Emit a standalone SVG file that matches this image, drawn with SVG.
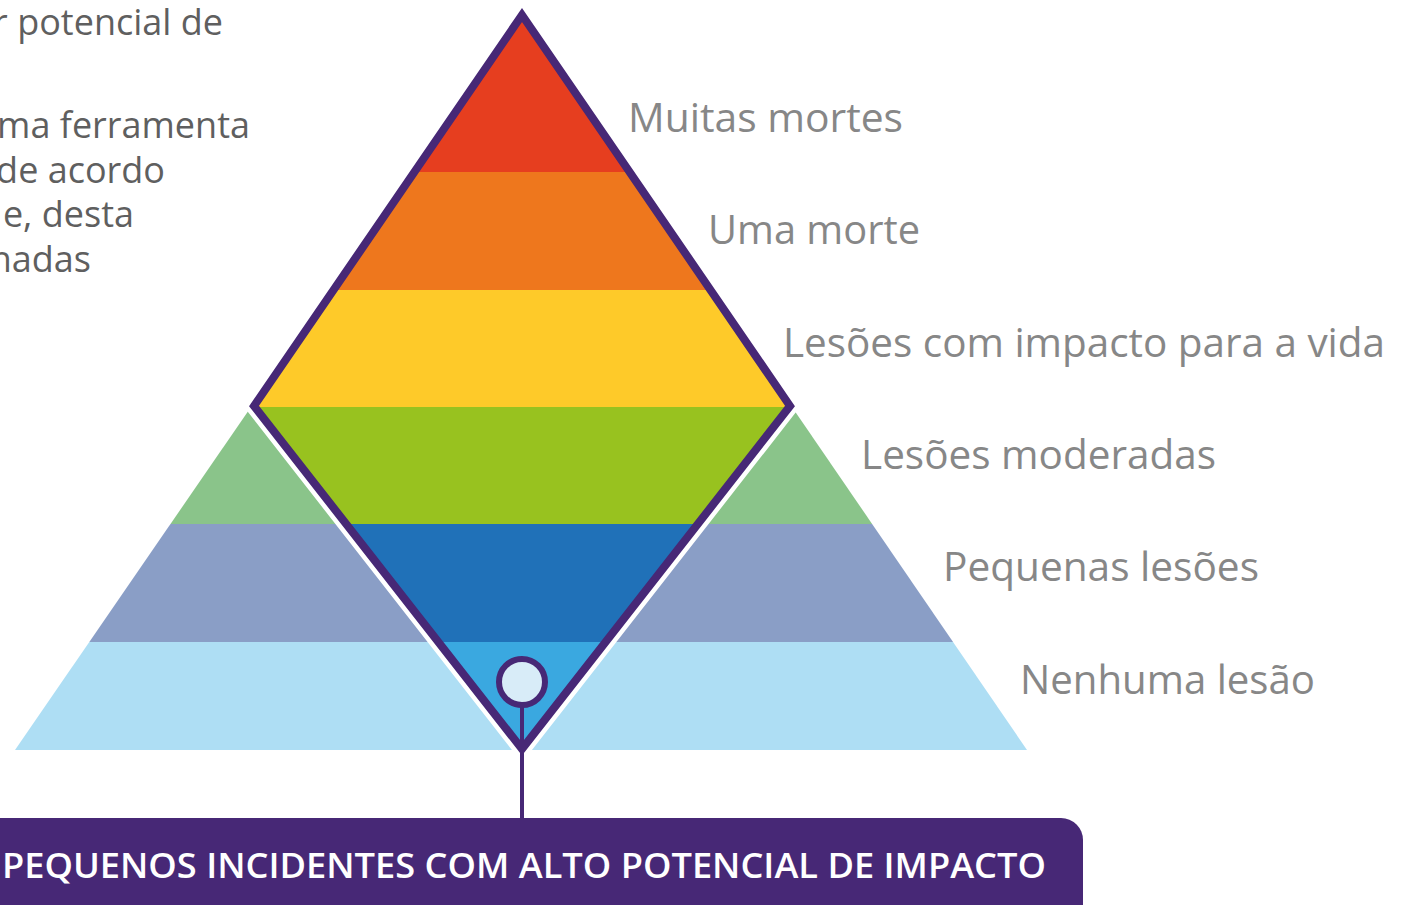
<svg xmlns="http://www.w3.org/2000/svg" width="1408" height="905" viewBox="0 0 1408 905">
<style>
.lbl{font-family:"Open Sans","Liberation Sans",sans-serif;font-size:40px;fill:#878787}
.side{font-family:"Open Sans","Liberation Sans",sans-serif;font-size:36px;fill:#5f5f5f;text-anchor:end}
.banner{font-family:"Open Sans","Liberation Sans",sans-serif;font-size:35px;font-weight:600;fill:#ffffff}
</style>
<defs>
<clipPath id="bigTri"><polygon points="522,13 15,750 1027,750"/></clipPath>
<clipPath id="diam"><polygon points="522,15 254,406 522,749 790,406"/></clipPath>
</defs>
<rect width="1408" height="905" fill="#ffffff"/>
<g id="side-text">
<text class="side" x="223" y="35">r potencial de</text>
<text class="side" x="250" y="138">ma ferramenta</text>
<text class="side" x="165" y="183">de acordo</text>
<text class="side" x="134" y="227">e, desta</text>
<text class="side" x="91" y="272">nadas</text>
</g>
<g id="outer-pyramid" clip-path="url(#bigTri)">
<rect x="0" y="407" width="1100" height="117" fill="#8AC48A"/>
<rect x="0" y="524" width="1100" height="118" fill="#8A9EC6"/>
<rect x="0" y="642" width="1100" height="108" fill="#AEDEF4"/>
</g>
<polygon points="522,15 254,406 522,749 790,406" fill="#ffffff" stroke="#ffffff" stroke-width="17" stroke-linejoin="miter"/>
<g id="diamond-bands" clip-path="url(#diam)">
<rect x="200" y="0" width="650" height="172" fill="#E63E1F"/>
<rect x="200" y="172" width="650" height="118" fill="#EE771D"/>
<rect x="200" y="290" width="650" height="117" fill="#FECA29"/>
<rect x="200" y="407" width="650" height="117" fill="#98C21F"/>
<rect x="200" y="524" width="650" height="118" fill="#2071B8"/>
<rect x="200" y="642" width="650" height="120" fill="#3AA8E0"/>
</g>
<g id="diamond-outline">
<polygon points="522,15 254,406 522,749 790,406" fill="none" stroke="#472876" stroke-width="8" stroke-linejoin="miter" stroke-miterlimit="10"/>
</g>
<g id="connectors">
<line x1="522" y1="704" x2="522" y2="820" stroke="#472876" stroke-width="4"/>
</g>
<g id="marker-node">
<circle cx="522" cy="682" r="23" fill="#D8ECF8" stroke="#472876" stroke-width="6"/>
</g>
<g id="labels">
<text class="lbl" x="628" y="132" textLength="275" lengthAdjust="spacingAndGlyphs">Muitas mortes</text>
<text class="lbl" x="708" y="244" textLength="212" lengthAdjust="spacingAndGlyphs">Uma morte</text>
<text class="lbl" x="783" y="357" textLength="602" lengthAdjust="spacingAndGlyphs">Lesões com impacto para a vida</text>
<text class="lbl" x="861" y="469" textLength="355" lengthAdjust="spacingAndGlyphs">Lesões moderadas</text>
<text class="lbl" x="943" y="581" textLength="316" lengthAdjust="spacingAndGlyphs">Pequenas lesões</text>
<text class="lbl" x="1020" y="694" textLength="295" lengthAdjust="spacingAndGlyphs">Nenhuma lesão</text>
</g>
<g id="banner">
<rect x="-30" y="818" width="1113" height="120" rx="22" ry="22" fill="#472876"/>
<text class="banner" x="2" y="878" textLength="1044" lengthAdjust="spacingAndGlyphs">PEQUENOS INCIDENTES COM ALTO POTENCIAL DE IMPACTO</text>
</g>
</svg>
